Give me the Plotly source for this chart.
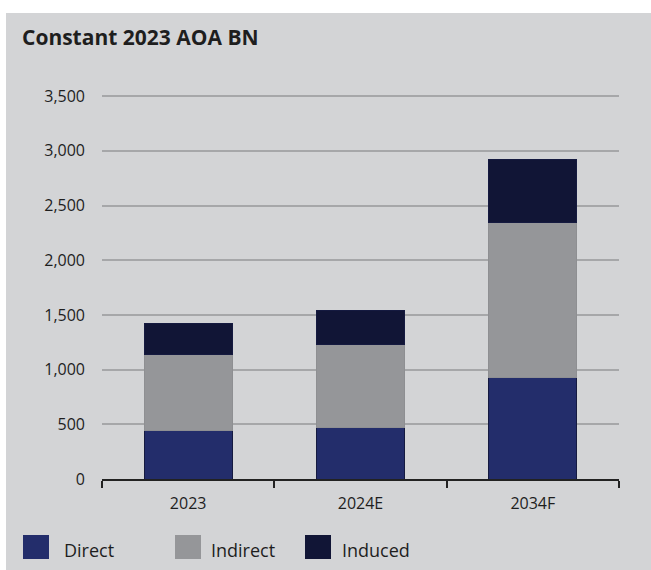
import plotly.graph_objects as go

categories = ["2023", "2024E", "2034F"]
direct = [440, 475, 932]
indirect = [700, 759, 1417]
induced = [285, 311, 576]
series_names = ["Direct", "Indirect", "Induced"]
colors = ["#232d6b", "#959699", "#111536"]
y_ticks = [0, 500, 1000, 1500, 2000, 2500, 3000, 3500]
y_tick_labels = ["0", "500", "1,000", "1,500", "2,000", "2,500", "3,000", "3,500"]

W, H = 651, 570
FONT = "Open Sans"
TEXT = "#1e1e1e"
ML, MR, MT, MB = 102, 32, 94, 91

fig = go.Figure()
for name, vals, col in zip(series_names, [direct, indirect, induced], colors):
    fig.add_trace(go.Bar(
        x=categories, y=vals, name=name,
        marker=dict(color=col, line=dict(color="#151a40" if name != "Indirect" else "#8e8f92", width=1)),
        showlegend=False, hoverinfo="y+name",
    ))

fig.update_layout(
    width=W, height=H,
    barmode="stack", bargap=0.49,
    paper_bgcolor="white", plot_bgcolor="rgba(0,0,0,0)",
    margin=dict(l=ML, r=MR, t=MT, b=MB),
    font=dict(family=FONT, size=16, color=TEXT),
    xaxis=dict(
        showgrid=False, showline=True, linecolor="#222222", linewidth=2,
        ticks="outside", tickson="boundaries", ticklen=7, tickwidth=2, tickcolor="#222222",
        ticklabelstandoff=9,
        tickfont=dict(size=16, family=FONT, color=TEXT),
    ),
    yaxis=dict(
        range=[0, 3520], tickvals=y_ticks, ticktext=y_tick_labels,
        showgrid=True, gridcolor="#a6a7a9", gridwidth=1.5,
        zeroline=False, showline=False, ticks="", ticklen=0,
        ticklabelstandoff=16,
        tickfont=dict(size=16, family=FONT, color=TEXT),
    ),
)

pw, ph = W - ML - MR, H - MT - MB
def px_x(x):
    return (x - ML) / pw
def px_y(y):
    return (H - MB - y) / ph

shapes = [dict(type="rect", xref="paper", yref="paper", layer="below",
               x0=px_x(6), x1=px_x(W + 5), y0=px_y(H + 5), y1=px_y(13),
               fillcolor="#d3d4d6", line=dict(width=0))]

legend_items = [(23, 62), (175, 209), (305, 340)]
annotations = []
for (sx, tx), name, col in zip(legend_items, series_names, colors):
    shapes.append(dict(type="rect", xref="paper", yref="paper",
                       x0=px_x(sx), x1=px_x(sx + 26), y0=px_y(559), y1=px_y(535),
                       fillcolor=col, line=dict(width=0)))
    annotations.append(dict(xref="paper", yref="paper", x=px_x(tx), y=px_y(550),
                            text=name, showarrow=False, xanchor="left", yanchor="middle",
                            font=dict(size=18, family=FONT, color=TEXT)))

annotations.append(dict(xref="paper", yref="paper", x=px_x(20), y=px_y(37),
                        text="<b>Constant 2023 AOA BN</b>", showarrow=False,
                        xanchor="left", yanchor="middle",
                        font=dict(size=21, family=FONT, color=TEXT)))

fig.update_layout(shapes=shapes, annotations=annotations)
fig.write_html("out.html", config={"displayModeBar": False},
               post_script="document.body.style.margin='0';")
